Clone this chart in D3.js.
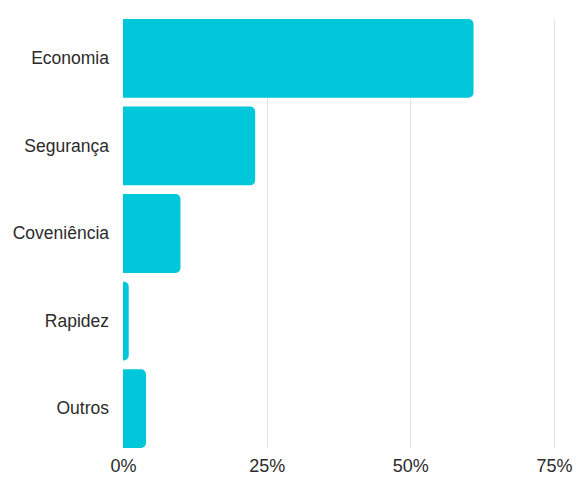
<!DOCTYPE html>
<html>
<head>
<meta charset="utf-8">
<script src="https://cdn.jsdelivr.net/npm/d3@7"></script>
<style>
  html, body { margin: 0; padding: 0; background: #fff; }
  svg { display: block; }
</style>
</head>
<body>
<svg id="chart" width="576" height="477"></svg>
<script>
// Motivos citados (share of respondents)
const categories = ["Economia", "Segurança", "Coveniência", "Rapidez", "Outros"];
const values = [0.61, 0.23, 0.10, 0.01, 0.04];
const tickValues = [0, 0.25, 0.5, 0.75];

const width = 576, height = 477;
const margin = { top: 19, right: 22, bottom: 29, left: 123 };
const barColor = "#00c8da";
const gridColor = "#e3e3e3";
const textColor = "#2b2b2b";
const fontFamily = "'Liberation Sans', Arial, Helvetica, sans-serif";

const svg = d3.select("#chart");

const x = d3.scaleLinear()
  .domain([0, 0.75])
  .range([margin.left, width - margin.right]);

const y = d3.scaleBand()
  .domain(categories)
  .range([margin.top, height - margin.bottom])
  .paddingInner(0.1)
  .paddingOuter(0);

// vertical gridlines
svg.append("g")
  .selectAll("line")
  .data(tickValues.filter(d => d > 0))
  .join("line")
  .attr("x1", d => Math.round(x(d)) + 0.5)
  .attr("x2", d => Math.round(x(d)) + 0.5)
  .attr("y1", margin.top)
  .attr("y2", height - margin.bottom)
  .attr("stroke", gridColor)
  .attr("stroke-width", 1);

// bars with rounded right-hand corners
function barPath(x0, y0, w, h, r) {
  r = Math.min(r, w, h / 2);
  return `M${x0},${y0}` +
    `H${x0 + w - r}` +
    `A${r},${r} 0 0 1 ${x0 + w},${y0 + r}` +
    `V${y0 + h - r}` +
    `A${r},${r} 0 0 1 ${x0 + w - r},${y0 + h}` +
    `H${x0}Z`;
}

svg.append("g")
  .selectAll("path")
  .data(categories.map((c, i) => ({ c, v: values[i] })))
  .join("path")
  .attr("d", d => barPath(x(0), y(d.c), x(d.v) - x(0), y.bandwidth(), 5))
  .attr("fill", barColor);

// category labels
const yAxis = svg.append("g")
  .attr("transform", `translate(${margin.left},0)`)
  .call(d3.axisLeft(y).tickSize(0).tickPadding(14));
yAxis.select(".domain").remove();
yAxis.selectAll("text")
  .attr("fill", textColor)
  .style("font-family", fontFamily)
  .style("font-size", "17.5px");

// percentage ticks
const xAxis = svg.append("g")
  .attr("transform", `translate(0,${height - margin.bottom})`)
  .call(d3.axisBottom(x).tickValues(tickValues).tickFormat(d3.format(".0%")).tickSize(0).tickPadding(11));
xAxis.select(".domain").remove();
xAxis.selectAll("text")
  .attr("fill", textColor)
  .style("font-family", fontFamily)
  .style("font-size", "18px");
</script>
</body>
</html>
